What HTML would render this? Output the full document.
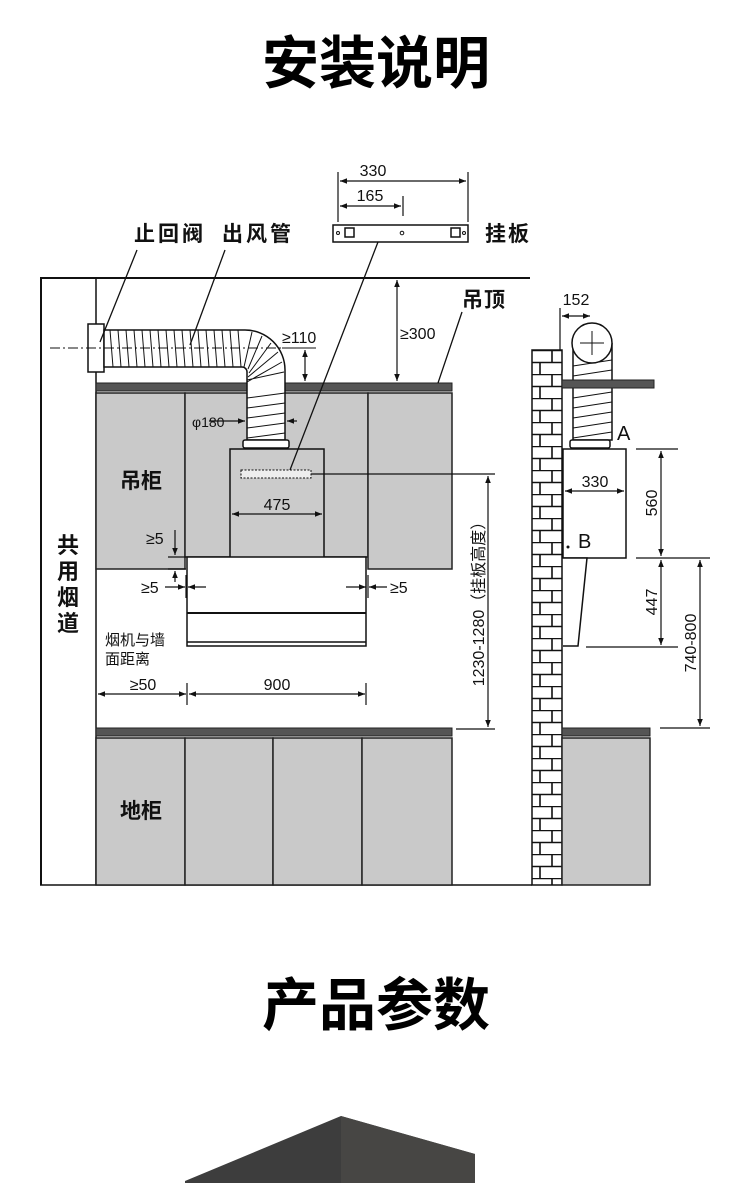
<!DOCTYPE html>
<html><head><meta charset="utf-8"><style>
html,body{margin:0;padding:0;background:#fff;width:750px;height:1183px;overflow:hidden}
svg{display:block}
text{font-family:"Liberation Sans","Noto Sans CJK SC",sans-serif;fill:#111}
.b{font-weight:bold}
</style></head><body>
<svg width="750" height="1183" viewBox="0 0 750 1183" xmlns="http://www.w3.org/2000/svg">
<defs>
<marker id="a" viewBox="0 0 10 10" refX="10" refY="5" markerWidth="9" markerHeight="7" orient="auto-start-reverse" markerUnits="userSpaceOnUse"><path d="M0,1L10,5L0,9z" fill="#111"/></marker>
<pattern id="brick" x="532" y="350" width="30" height="24" patternUnits="userSpaceOnUse">
<rect width="30" height="24" fill="#fff"/>
<path d="M0,0.5H30M0,12.5H30M20,0V12M8,12V24" stroke="#111" stroke-width="1.6" fill="none"/>
</pattern>
</defs>

<text x="376" y="83" font-size="57" class="b" text-anchor="middle" style="fill:#000">安装说明</text>
<text x="376" y="1025" font-size="57" class="b" text-anchor="middle" style="fill:#000">产品参数</text>

<!-- wall outline -->
<path d="M41,885V278H530" stroke="#111" stroke-width="2" fill="none"/>
<line x1="96" y1="278" x2="96" y2="885" stroke="#111" stroke-width="1.5"/>
<line x1="40" y1="885" x2="532" y2="885" stroke="#111" stroke-width="1.5"/>

<!-- upper cabinets -->
<g fill="#c9c9c9" stroke="#222" stroke-width="1.5">
<rect x="96" y="393" width="89" height="176"/>
<rect x="185" y="393" width="183" height="164"/>
<rect x="368" y="393" width="84" height="176"/>
</g>
<rect x="96" y="383" width="356" height="8" fill="#555" stroke="#222"/>

<!-- chimney box -->
<rect x="230" y="449" width="94" height="109" fill="#cbcbcb" stroke="#111" stroke-width="1.5"/>
<rect x="241" y="470" width="70" height="8" fill="#eee" stroke="#111" stroke-dasharray="2,1.5"/>

<!-- hood -->
<rect x="187" y="557" width="179" height="89" fill="#fff" stroke="#111" stroke-width="1.5"/>
<line x1="187" y1="613" x2="366" y2="613" stroke="#111" stroke-width="2"/>
<line x1="187" y1="642" x2="366" y2="642" stroke="#111" stroke-width="1.5"/>

<!-- duct -->
<rect x="88" y="324" width="16" height="48" fill="#fff" stroke="#111" stroke-width="1.5"/>
<path d="M104,330H245A40,40 0 0 1 285,370V440H247V372A5,5 0 0 0 242,367H104Z" fill="#fff" stroke="#111" stroke-width="1.5"/>
<g stroke="#111" stroke-width="1">
<path d="M110,330l3,37M118,330l3,37M126,330l3,37M134,330l3,37M142,330l3,37M150,330l3,37M158,330l3,37M166,330l3,37M174,330l3,37M182,330l3,37M190,330l3,37M198,330l3,37M206,330l3,37M214,330l3,37M222,330l3,37M230,330l3,37M238,330l3,37"/>
<path d="M252,332l-8,35M262,336l-14,33M271,343l-22,30M278,352l-30,25M282,362l-35,20M284,372l-37,8"/>
<path d="M247,398l38,-5M247,408l38,-5M247,418l38,-5M247,428l38,-5M247,438l38,-5"/>
</g>
<rect x="243" y="440" width="46" height="8" rx="2" fill="#fff" stroke="#111" stroke-width="1.5"/>
<line x1="50" y1="348" x2="282" y2="348" stroke="#111" stroke-dasharray="10,3,2,3"/>
<line x1="282" y1="348" x2="316" y2="348" stroke="#111"/>

<!-- leaders -->
<g stroke="#111" stroke-width="1.3">
<line x1="137" y1="250" x2="100" y2="342"/>
<line x1="225" y1="250" x2="190" y2="345"/>
<line x1="378" y1="242" x2="290" y2="470"/>
<line x1="462" y1="312" x2="438" y2="383"/>
</g>

<!-- dims -->
<g stroke="#111" stroke-width="1.2" fill="none">
<line x1="305" y1="350" x2="305" y2="381" marker-start="url(#a)" marker-end="url(#a)"/>
<line x1="397" y1="280" x2="397" y2="381" marker-start="url(#a)" marker-end="url(#a)"/>
<line x1="338" y1="172" x2="338" y2="222"/><line x1="468" y1="172" x2="468" y2="222"/><line x1="403" y1="196" x2="403" y2="216"/>
<line x1="340" y1="181" x2="466" y2="181" marker-start="url(#a)" marker-end="url(#a)"/>
<line x1="340" y1="206" x2="401" y2="206" marker-start="url(#a)" marker-end="url(#a)"/>
<line x1="209" y1="421" x2="245" y2="421" marker-end="url(#a)"/>
<line x1="297" y1="421" x2="287" y2="421" marker-end="url(#a)"/>
<line x1="232" y1="514" x2="322" y2="514" marker-start="url(#a)" marker-end="url(#a)"/>
<line x1="311" y1="474" x2="495" y2="474"/>
<line x1="488" y1="476" x2="488" y2="727" marker-start="url(#a)" marker-end="url(#a)"/>
<line x1="456" y1="729" x2="495" y2="729"/>
<line x1="175" y1="530" x2="175" y2="555" marker-end="url(#a)"/>
<line x1="175" y1="582" x2="175" y2="571" marker-end="url(#a)"/>
<line x1="168" y1="557" x2="186" y2="557"/><line x1="168" y1="569" x2="186" y2="569"/>
<line x1="165" y1="587" x2="185" y2="587" marker-end="url(#a)"/>
<line x1="206" y1="587" x2="188" y2="587" marker-end="url(#a)"/>
<line x1="186" y1="575" x2="186" y2="598"/><line x1="368" y1="575" x2="368" y2="598"/>
<line x1="346" y1="587" x2="366" y2="587" marker-end="url(#a)"/>
<line x1="387" y1="587" x2="369" y2="587" marker-end="url(#a)"/>
<line x1="98" y1="694" x2="186" y2="694" marker-start="url(#a)" marker-end="url(#a)"/>
<line x1="189" y1="694" x2="365" y2="694" marker-start="url(#a)" marker-end="url(#a)"/>
<line x1="187" y1="683" x2="187" y2="705"/><line x1="366" y1="683" x2="366" y2="705"/>
</g>

<!-- bracket -->
<rect x="333" y="225" width="135" height="17" fill="#fff" stroke="#111" stroke-width="1.5"/>
<rect x="345" y="228" width="9" height="9" fill="none" stroke="#111" stroke-width="1.5"/>
<rect x="451" y="228" width="9" height="9" fill="none" stroke="#111" stroke-width="1.5"/>
<circle cx="402" cy="233" r="1.8" fill="none" stroke="#111"/>
<circle cx="338" cy="233" r="1.5" fill="none" stroke="#111"/>
<circle cx="464" cy="233" r="1.5" fill="none" stroke="#111"/>

<!-- countertop & lower cabinets -->
<rect x="96" y="728" width="356" height="8" fill="#555" stroke="#222"/>
<g fill="#c9c9c9" stroke="#222" stroke-width="1.5">
<rect x="96" y="738" width="89" height="147"/>
<rect x="185" y="738" width="88" height="147"/>
<rect x="273" y="738" width="89" height="147"/>
<rect x="362" y="738" width="90" height="147"/>
</g>

<!-- labels -->
<g font-size="21">
<text x="134" y="241" class="b" letter-spacing="3">止回阀</text>
<text x="222" y="241" class="b" letter-spacing="3">出风管</text>
<text x="485" y="241" class="b" letter-spacing="2">挂板</text>
<text x="462" y="307" class="b" letter-spacing="1">吊顶</text>
<text x="120" y="488" class="b">吊柜</text>
<text x="120" y="818" class="b">地柜</text>
</g>
<g font-size="22" class="b" text-anchor="middle">
<text x="68" y="553" class="b">共</text><text x="68" y="579" class="b">用</text><text x="68" y="605" class="b">烟</text><text x="68" y="631" class="b">道</text>
</g>
<g font-size="16">
<text x="282" y="343">≥110</text>
<text x="400" y="339">≥300</text>
<text x="373" y="176" text-anchor="middle">330</text>
<text x="370" y="201" text-anchor="middle">165</text>
<text x="192" y="427" font-size="14">φ180</text>
<text x="277" y="510" text-anchor="middle">475</text>
<text x="146" y="544">≥5</text>
<text x="141" y="593">≥5</text>
<text x="390" y="593">≥5</text>
<text x="105" y="645" font-size="15">烟机与墙</text>
<text x="105" y="664" font-size="15">面距离</text>
<text x="143" y="690" text-anchor="middle">≥50</text>
<text x="277" y="690" text-anchor="middle">900</text>
<text transform="translate(484,600) rotate(-90)" text-anchor="middle" font-size="16">1230-1280（挂板高度）</text>
</g>

<!-- right side view -->
<rect x="532" y="350" width="30" height="535" fill="url(#brick)" stroke="#111" stroke-width="1.5"/>
<path d="M573,343V440H612V343" fill="#fff" stroke="#111" stroke-width="1.5"/>
<g stroke="#111"><path d="M573,366l39,-6M573,376l39,-6M573,398l39,-6M573,408l39,-6M573,418l39,-6M573,428l39,-6M573,438l39,-6"/></g>
<circle cx="592" cy="343" r="20" fill="#fff" stroke="#111" stroke-width="1.5"/>
<path d="M592,331V355M580,343H604" stroke="#111"/>
<rect x="562" y="380" width="92" height="8" fill="#555" stroke="#222"/>
<rect x="570" y="440" width="40" height="8" rx="2" fill="#fff" stroke="#111" stroke-width="1.5"/>
<rect x="563" y="449" width="63" height="109" fill="#fff" stroke="#111" stroke-width="1.5"/>
<path d="M563,558H587L578,646H563" fill="#fff" stroke="#111" stroke-width="1.5"/>
<circle cx="568" cy="547" r="1.5" fill="#111"/>
<rect x="562" y="728" width="88" height="8" fill="#555" stroke="#222"/>
<rect x="562" y="738" width="88" height="147" fill="#c9c9c9" stroke="#222" stroke-width="1.5"/>
<g stroke="#111" stroke-width="1.2" fill="none">
<line x1="560" y1="308" x2="560" y2="350"/>
<line x1="562" y1="316" x2="590" y2="316" marker-start="url(#a)" marker-end="url(#a)"/>
<line x1="565" y1="491" x2="624" y2="491" marker-start="url(#a)" marker-end="url(#a)"/>
<line x1="636" y1="449" x2="678" y2="449"/>
<line x1="636" y1="558" x2="710" y2="558"/>
<line x1="586" y1="647" x2="678" y2="647"/>
<line x1="660" y1="728" x2="710" y2="728"/>
<line x1="661" y1="451" x2="661" y2="556" marker-start="url(#a)" marker-end="url(#a)"/>
<line x1="661" y1="560" x2="661" y2="645" marker-start="url(#a)" marker-end="url(#a)"/>
<line x1="700" y1="560" x2="700" y2="726" marker-start="url(#a)" marker-end="url(#a)"/>
</g>
<g font-size="16">
<text x="576" y="305" text-anchor="middle">152</text>
<text x="595" y="487" text-anchor="middle">330</text>
<text x="617" y="440" font-size="20">A</text>
<text x="578" y="548" font-size="20">B</text>
<text transform="translate(657,503) rotate(-90)" text-anchor="middle">560</text>
<text transform="translate(657,602) rotate(-90)" text-anchor="middle">447</text>
<text transform="translate(696,643) rotate(-90)" text-anchor="middle">740-800</text>
</g>

<!-- bottom product shape -->
<polygon points="185,1183 185,1181 341,1116 475,1154 475,1183" fill="#3d3d3d"/>
<polygon points="341,1116 475,1154 475,1183 341,1183" fill="#474644"/>
</svg>
</body></html>
